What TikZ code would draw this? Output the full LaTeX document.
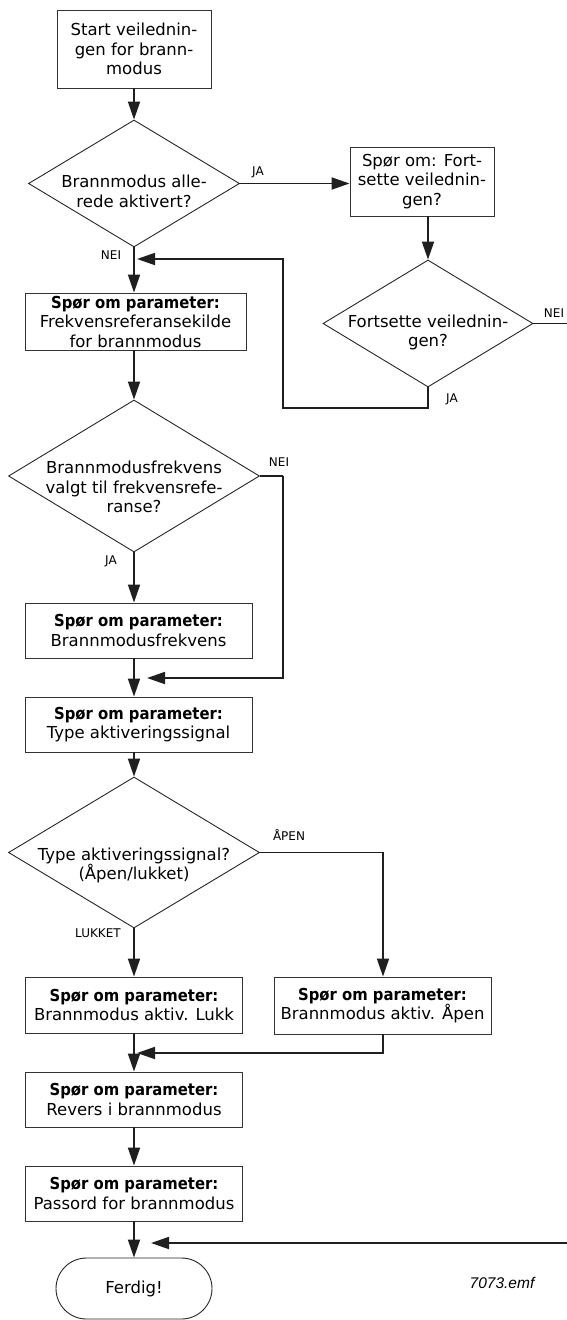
\documentclass[tikz,border=0pt]{standalone}
\usepackage{fontspec}
\setmainfont{DejaVu Sans}[BoldFeatures={FakeStretch=0.9}]
\newfontfamily\reffont{Liberation Sans}
\usetikzlibrary{arrows.meta,shapes.geometric,shapes.misc}

\begin{document}
\begin{tikzpicture}[x=1pt,y=-1pt,
  txt/.style={font=\fontsize{16.5}{19.5}\selectfont},
  box/.style={txt,draw=black!80,line width=0.9pt,rectangle,inner sep=0pt,align=center},
  decision/.style={draw=black!85,line width=0.9pt,diamond,inner sep=0pt},
  dtext/.style={txt,align=center,inner sep=0pt},
  terminal/.style={txt,draw=black!85,line width=0.9pt,rounded rectangle,inner sep=0pt},
  flow/.style={line width=1.8pt,draw=black!88},
  tip/.style={-{Triangle[length=18pt,width=12pt]}},
  lbl/.style={inner sep=0pt,font=\fontsize{12}{14}\selectfont},
]
\useasboundingbox (0,0) rectangle (567,1320);

% ---- process boxes ----
\node[box,minimum width=154pt,minimum height=78pt] (start) at (134,49)
  {Start veilednin-\\gen for brann-\\modus};
\node[box,minimum width=144pt,minimum height=69pt] (box2) at (422,181.5)
  {Spør om: Fort-\\sette veilednin-\\gen?};
\node[box,minimum width=221pt,minimum height=57pt] (box3) at (135.5,321.5)
  {\textbf{Spør om parameter:}\\Frekvensreferansekilde\\for brannmodus};
\node[box,minimum width=227pt,minimum height=55pt] (box4) at (138.5,630.5)
  {\textbf{Spør om parameter:}\\Brannmodusfrekvens};
\node[box,minimum width=227pt,minimum height=55pt] (box5) at (138.5,724.5)
  {\textbf{Spør om parameter:}\\Type aktiveringssignal};
\node[box,minimum width=217pt,minimum height=56pt] (box6) at (134,1005)
  {\textbf{Spør om parameter:}\\Brannmodus aktiv. Lukk};
\node[box,minimum width=217pt,minimum height=57pt] (box7) at (382.5,1005.5)
  {\textbf{Spør om parameter:}\\Brannmodus aktiv. Åpen};
\node[box,minimum width=217pt,minimum height=55pt] (box8) at (134,1099.5)
  {\textbf{Spør om parameter:}\\Revers i brannmodus};
\node[box,minimum width=217pt,minimum height=55pt] (box9) at (134,1193.5)
  {\textbf{Spør om parameter:}\\Passord for brannmodus};
\node[terminal,minimum width=156pt,minimum height=61pt] (done) at (134,1288.5) {Ferdig!};

% ---- decisions ----
\node[decision,minimum width=211pt,minimum height=127pt] (d1) at (134,183.5) {};
\node[dtext] (d1t) at ([yshift=-8pt]d1.center) {Brannmodus alle-\\rede aktivert?};
\node[decision,minimum width=210pt,minimum height=127pt] (d2) at (428,323.5) {};
\node[dtext] (d2t) at ([yshift=-9pt]d2.center) {Fortsette veilednin-\\gen?};
\node[decision,minimum width=251pt,minimum height=152pt] (d3) at (134,476) {};
\node[dtext] (d3t) at ([yshift=-11pt]d3.center) {Brannmodusfrekvens\\valgt til frekvensrefe-\\ranse?};
\node[decision,minimum width=251pt,minimum height=151pt] (d4) at (134,852.5) {};
\node[dtext] (d4t) at ([yshift=-13pt]d4.center) {Type aktiveringssignal?\\(Åpen/lukket)};

% ---- bend points and free ends ----
\coordinate (loopA) at (428,408);
\coordinate (loopB) at (283,408);
\coordinate (loopC) at (283,259);
\coordinate (loopTip) at (137,259);
\coordinate (exitNei) at (567,323.5);
\coordinate (neiA) at (283,476);
\coordinate (neiB) at (283,678);
\coordinate (neiTip) at (147,678);
\coordinate (apenA) at (383,852.5);
\coordinate (joinA) at (383,1053);
\coordinate (joinTip) at (137,1053);
\coordinate (backIn) at (567,1243);
\coordinate (backTip) at (151,1243);

% ---- connectors ----
\draw[flow,tip] (start.south) -- (d1.north);
\draw[flow,tip] (d1.east) -- (d1.east -| box2.west);
\draw[flow,tip] (box2.south -| d2.north) -- (d2.north);
\draw[flow] (d2.east) -- (exitNei);
\draw[flow,tip] (d2.south) -- (loopA) -- (loopB) -- (loopC) -- (loopTip);
\draw[flow,tip] (d1.south) -- (d1.south |- box3.north);
\draw[flow,tip] (d1.south |- box3.south) -- (d3.north);
\draw[flow] (d3.east) -- (neiA);
\draw[flow,tip] (neiA) -- (neiB) -- (neiTip);
\draw[flow,tip] (d3.south) -- (d3.south |- box4.north);
\draw[flow,tip] (d3.south |- box4.south) -- (d3.south |- box5.north);
\draw[flow,tip] (d4.north |- box5.south) -- (d4.north);
\draw[flow,tip] (d4.east) -- (apenA) -- (box7.north -| apenA);
\draw[flow,tip] (d4.south) -- (box6.north);
\draw[flow,tip] (box7.south -| apenA) -- (joinA) -- (joinTip);
\draw[flow,tip] (box6.south) -- (box8.north);
\draw[flow,tip] (box8.south) -- (box9.north);
\draw[flow,tip] (box9.south) -- (done.north);
\draw[flow,tip] (backIn) -- (backTip);

% ---- branch labels ----
\node[lbl] (lJa1) at (258,172) {JA};
\node[lbl] (lNei1) at (111,255) {NEI};
\node[lbl] (lNei2) at (554,313) {NEI};
\node[lbl] (lJa2) at (452,399) {JA};
\node[lbl] (lNei3) at (279,462) {NEI};
\node[lbl] (lJa3) at (111,561) {JA};
\node[lbl] (lApen) at (289,835) {ÅPEN};
\node[lbl] (lLukket) at (98,933) {LUKKET};

% ---- file tag ----
\node[inner sep=0pt,font=\reffont\itshape\fontsize{15.5}{18}\selectfont] (tag) at (502,1283) {7073.emf};
\end{tikzpicture}
\end{document}
